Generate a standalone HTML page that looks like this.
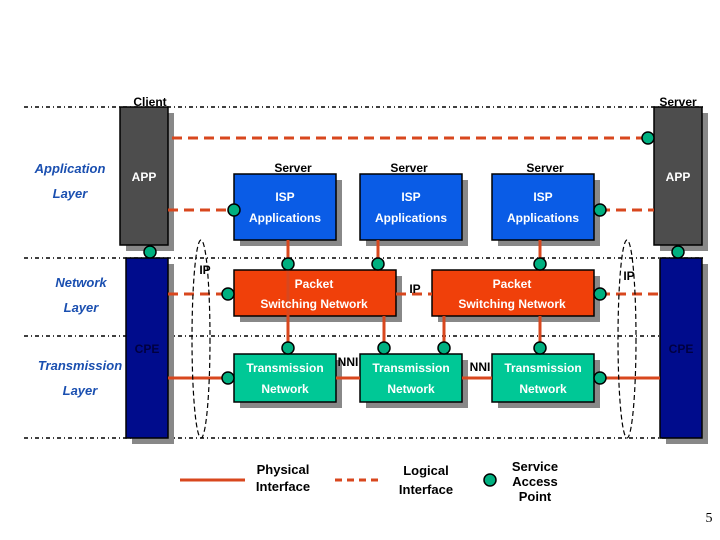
<!DOCTYPE html>
<html><head><style>body{margin:0;background:#fff}svg{display:block}</style></head><body>
<svg width="720" height="540" xmlns="http://www.w3.org/2000/svg" font-family="Liberation Sans, sans-serif">
<g stroke="#000" stroke-width="1.5" stroke-dasharray="4,3,1,3">
<line x1="24" y1="107" x2="705" y2="107"/><line x1="24" y1="258" x2="705" y2="258"/>
<line x1="24" y1="336" x2="705" y2="336"/><line x1="24" y1="438" x2="705" y2="438"/>
</g>
<g fill="#888">
<rect x="126" y="113" width="48" height="138"/><rect x="132" y="264" width="42" height="180"/>
<rect x="660" y="113" width="48" height="138"/><rect x="666" y="264" width="42" height="180"/>
<rect x="240" y="180" width="102" height="66"/><rect x="366" y="180" width="102" height="66"/><rect x="498" y="180" width="102" height="66"/>
<rect x="240" y="276" width="162" height="46"/><rect x="438" y="276" width="162" height="46"/>
<rect x="240" y="360" width="102" height="48"/><rect x="366" y="360" width="102" height="48"/><rect x="498" y="360" width="102" height="48"/>
</g>
<g stroke="#000" stroke-width="1.5">
<rect x="120" y="107" width="48" height="138" fill="#4d4d4d"/><rect x="126" y="258" width="42" height="180" fill="#000c8c"/>
<rect x="654" y="107" width="48" height="138" fill="#4d4d4d"/><rect x="660" y="258" width="42" height="180" fill="#000c8c"/>
<rect x="234" y="174" width="102" height="66" fill="#0a5ce6"/><rect x="360" y="174" width="102" height="66" fill="#0a5ce6"/><rect x="492" y="174" width="102" height="66" fill="#0a5ce6"/>
<rect x="234" y="270" width="162" height="46" fill="#f0400a"/><rect x="432" y="270" width="162" height="46" fill="#f0400a"/>
<rect x="234" y="354" width="102" height="48" fill="#00c896"/><rect x="360" y="354" width="102" height="48" fill="#00c896"/><rect x="492" y="354" width="102" height="48" fill="#00c896"/>
</g>
<g stroke="#d8471e" stroke-width="3" fill="none">
<path d="M172 138H648M168 210H234M600 210H654M168 294H228M396 294H432M600 294H660" stroke-dasharray="10,6"/>
<path d="M168 378H228M336 378H360M462 378H492M600 378H660M288 240V354M378 240V270M540 240V270M384 316V354M444 316V354M540 316V354"/>
</g>
<g fill="#00b080" stroke="#000" stroke-width="1.5">
<circle cx="648" cy="138" r="6"/><circle cx="234" cy="210" r="6"/><circle cx="600" cy="210" r="6"/>
<circle cx="150" cy="252" r="6"/><circle cx="678" cy="252" r="6"/>
<circle cx="228" cy="294" r="6"/><circle cx="600" cy="294" r="6"/>
<circle cx="288" cy="264" r="6"/><circle cx="378" cy="264" r="6"/><circle cx="540" cy="264" r="6"/>
<circle cx="288" cy="348" r="6"/><circle cx="384" cy="348" r="6"/><circle cx="444" cy="348" r="6"/><circle cx="540" cy="348" r="6"/>
<circle cx="228" cy="378" r="6"/><circle cx="600" cy="378" r="6"/>
<circle cx="490" cy="480" r="6"/>
</g>
<g fill="none" stroke="#000" stroke-width="1.2" stroke-dasharray="5,3">
<ellipse cx="201" cy="339" rx="9" ry="99"/><ellipse cx="627" cy="339" rx="9" ry="99"/>
</g>
<g font-size="12" fill="#000" font-weight="bold">
<text x="150" y="106" text-anchor="middle">Client</text><text x="678" y="106" text-anchor="middle">Server</text>
<text x="293" y="172" text-anchor="middle">Server</text><text x="409" y="172" text-anchor="middle">Server</text><text x="545" y="172" text-anchor="middle">Server</text>
<text x="205" y="274" text-anchor="middle">IP</text><text x="629" y="280" text-anchor="middle">IP</text><text x="415" y="293" text-anchor="middle">IP</text>
<text x="348" y="366" text-anchor="middle">NNI</text><text x="480" y="371" text-anchor="middle">NNI</text>
<text x="147" y="353" text-anchor="middle" fill="#000040">CPE</text><text x="681" y="353" text-anchor="middle" fill="#000040">CPE</text>
</g>
<g font-size="12" fill="#fff" text-anchor="middle" font-weight="bold">
<text x="144" y="181">APP</text><text x="678" y="181">APP</text>
<text x="285" y="201">ISP</text><text x="285" y="222">Applications</text>
<text x="411" y="201">ISP</text><text x="411" y="222">Applications</text>
<text x="543" y="201">ISP</text><text x="543" y="222">Applications</text>
<text x="314" y="288">Packet</text><text x="314" y="308">Switching Network</text>
<text x="512" y="288">Packet</text><text x="512" y="308">Switching Network</text>
<text x="285" y="372">Transmission</text><text x="285" y="393">Network</text>
<text x="411" y="372">Transmission</text><text x="411" y="393">Network</text>
<text x="543" y="372">Transmission</text><text x="543" y="393">Network</text>
</g>
<g font-size="13" fill="#1a4fb0" font-style="italic" font-weight="bold" text-anchor="middle">
<text x="70" y="173">Application</text><text x="70" y="198">Layer</text>
<text x="81" y="287">Network</text><text x="81" y="312">Layer</text>
<text x="80" y="370">Transmission</text><text x="80" y="395">Layer</text>
</g>
<line x1="180" y1="480" x2="245" y2="480" stroke="#d8471e" stroke-width="3"/>
<line x1="335" y1="480" x2="378" y2="480" stroke="#d8471e" stroke-width="3" stroke-dasharray="7,5"/>
<g font-size="13" text-anchor="middle" font-weight="bold">
<text x="283" y="474">Physical</text><text x="283" y="491">Interface</text>
<text x="426" y="475">Logical</text><text x="426" y="494">Interface</text>
<text x="535" y="471">Service</text><text x="535" y="486">Access</text><text x="535" y="501">Point</text>
</g>
<text x="709" y="522" font-family="Liberation Serif, serif" font-size="14" text-anchor="middle">5</text>
</svg>
</body></html>
